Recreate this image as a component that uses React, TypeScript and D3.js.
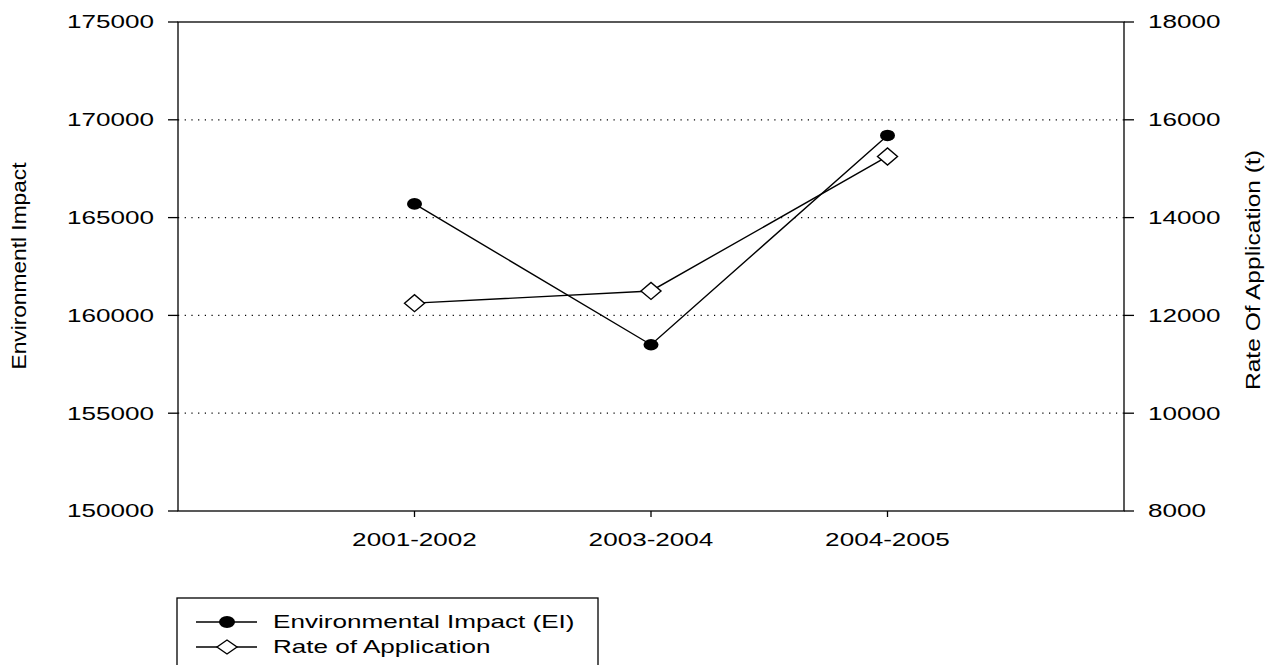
import React, { useEffect } from "react";
import * as d3 from "d3";

const categories = ["2001-2002", "2003-2004", "2004-2005"];
const eiValues = [165700, 158500, 169200];
const rateValues = [12250, 12500, 15250];
const leftTicks = [150000, 155000, 160000, 165000, 170000, 175000];
const rightTicks = [8000, 10000, 12000, 14000, 16000, 18000];
const gridValues = [155000, 160000, 165000, 170000];
const legendLabels = ["Environmental Impact (EI)", "Rate of Application"];

const W = 1272;
const H = 665;
const L = 178, R = 1124, T = 22, B = 511;
const FONT = "'Liberation Sans', Arial, Helvetica, sans-serif";
const SX = 1.45;

export default function App() {
  useEffect(() => {
    document.body.style.margin = "0";
  }, []);

  const x = d3.scalePoint<string>().domain(categories).range([L, R]).padding(1);
  const yL = d3.scaleLinear().domain([150000, 175000]).range([B, T]);
  const yR = d3.scaleLinear().domain([8000, 18000]).range([B, T]);

  const eiLine = d3.line<number>().x((_, i) => x(categories[i])!).y((d) => yL(d));
  const rateLine = d3.line<number>().x((_, i) => x(categories[i])!).y((d) => yR(d));

  const diamond = (cx: number, cy: number, hw: number, hh: number) =>
    `M${cx - hw},${cy}L${cx},${cy - hh}L${cx + hw},${cy}L${cx},${cy + hh}Z`;

  const stretched = (tx: number, ty: number, anchor: string, txt: string, key?: any) => (
    <g key={key} transform={`translate(${tx},${ty}) scale(${SX},1)`}>
      <text x={0} y={0} textAnchor={anchor} dy="0.35em" fontFamily={FONT} fontSize={18} fill="#000">
        {txt}
      </text>
    </g>
  );

  return (
    <svg width={W} height={H} style={{ display: "block" }}>
      <rect x={0} y={0} width={W} height={H} fill="#fff" />
      {gridValues.map((v) => (
        <line key={v} x1={L} x2={R} y1={yL(v)} y2={yL(v)} stroke="#000" strokeWidth={1.2} strokeDasharray="1.2,5.5" />
      ))}
      <rect x={L} y={T} width={R - L} height={B - T} fill="none" stroke="#000" strokeWidth={1.3} />
      {leftTicks.map((v) => (
        <g key={v}>
          <line x1={L - 10} x2={L} y1={yL(v)} y2={yL(v)} stroke="#000" strokeWidth={1.3} />
          {stretched(154, yL(v), "end", String(v))}
        </g>
      ))}
      {rightTicks.map((v) => (
        <g key={v}>
          <line x1={R} x2={R + 10} y1={yR(v)} y2={yR(v)} stroke="#000" strokeWidth={1.3} />
          {stretched(1148, yR(v), "start", String(v))}
        </g>
      ))}
      {categories.map((c) => (
        <g key={c}>
          <line x1={x(c)} x2={x(c)} y1={B} y2={B + 6} stroke="#000" strokeWidth={1.3} />
          {stretched(x(c)!, 540, "middle", c)}
        </g>
      ))}
      <text
        transform={`translate(26,266) rotate(-90)`}
        textAnchor="middle"
        fontFamily={FONT}
        fontSize={21}
        textLength={207}
        lengthAdjust="spacingAndGlyphs"
      >
        Environmentl Impact
      </text>
      <text
        transform={`translate(1260,270) rotate(-90)`}
        textAnchor="middle"
        fontFamily={FONT}
        fontSize={21}
        textLength={240}
        lengthAdjust="spacingAndGlyphs"
      >
        Rate Of Application (t)
      </text>
      <path d={eiLine(eiValues)!} fill="none" stroke="#000" strokeWidth={1.4} />
      <path d={rateLine(rateValues)!} fill="none" stroke="#000" strokeWidth={1.4} />
      {eiValues.map((v, i) => (
        <ellipse key={i} cx={x(categories[i])} cy={yL(v)} rx={7.5} ry={5.8} fill="#000" />
      ))}
      {rateValues.map((v, i) => (
        <path key={i} d={diamond(x(categories[i])!, yR(v), 10, 8.5)} fill="#fff" stroke="#000" strokeWidth={1.4} />
      ))}
      <rect x={177} y={598} width={421} height={100} fill="none" stroke="#000" strokeWidth={1.3} />
      <line x1={196} x2={257} y1={622} y2={622} stroke="#000" strokeWidth={1.4} />
      <ellipse cx={227} cy={622} rx={8} ry={6} fill="#000" />
      {stretched(273, 622, "start", legendLabels[0])}
      <line x1={196} x2={257} y1={647} y2={647} stroke="#000" strokeWidth={1.4} />
      <path d={diamond(227, 647, 10, 7)} fill="#fff" stroke="#000" strokeWidth={1.4} />
      {stretched(273, 647, "start", legendLabels[1])}
    </svg>
  );
}
